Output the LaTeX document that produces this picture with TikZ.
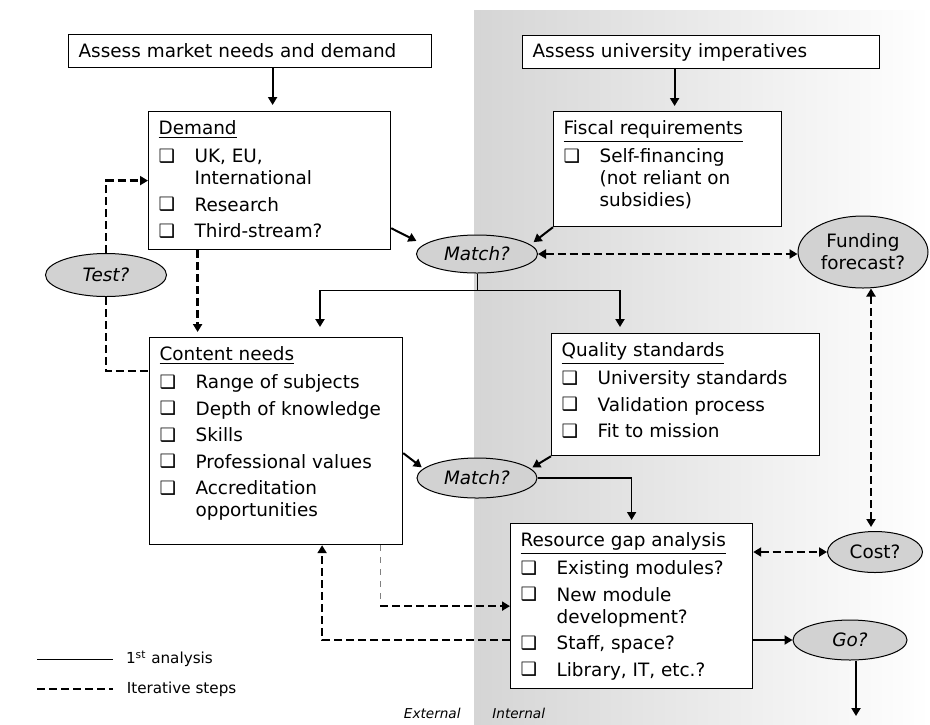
\documentclass[tikz,border=0pt]{standalone}
\usepackage{fontspec}
\setmainfont{DejaVu Sans}[ItalicFont={DejaVu Sans Oblique}]
\usetikzlibrary{shapes.geometric,arrows.meta}
% 方框内文字
\newcommand\chk{\makebox[18pt][l]{\raisebox{0.2pt}{\scalebox{1.0}{❑}}}}
\newcommand\itm[1]{\chk#1}
\newcommand\more[1]{\hspace*{18pt}#1}
\newcommand\boxtxt[3]{\parbox[c][#2][t]{#1}{\rule{0pt}{11.5pt}#3}}

\begin{document}
\begin{tikzpicture}[x=0.5pt,y=-0.5pt,
  font=\fontsize{9.2}{11}\selectfont,
  >={Triangle[length=4pt,width=4.5pt]},
  listbox/.style={draw,line width=0.6pt,fill=white,anchor=north west,inner xsep=5pt,inner ysep=0pt},
  headbox/.style={listbox,align=left,minimum height=16.5pt},
  qoval/.style={ellipse,draw,line width=0.5pt,fill=gray!35,inner sep=0pt},
  firstln/.style={line width=1pt},
  iterln/.style={line width=1.2pt,dash pattern=on 4pt off 2pt},
  small/.style={font=\fontsize{7.6}{9}\selectfont}]
  % 背景：内部区域
  \useasboundingbox (0,0) rectangle (930,724);
  \shade[left color=gray!33,middle color=gray!17,right color=white] (474,10) rectangle (930,724);
  % 顶部评估框
  \node[headbox,text width=171.5pt] (market) at (68,34) {Assess market needs and demand};
  \node[headbox,text width=168.5pt] (univ) at (522,35) {Assess university imperatives};
  % 列表框
  \node[listbox] (demand) at (148,111) {\boxtxt{111pt}{69pt}{\underline{Demand}\\[3pt]
    \itm{UK, EU,}\\ \more{International}\\[2.25pt]
    \itm{Research}\\[2.25pt]
    \itm{Third-stream?}}};
  \node[listbox] (fiscal) at (553,111) {\boxtxt{104pt}{57.5pt}{\underline{Fiscal requirements}\\[3pt]
    \itm{Self-financing}\\ \more{(not reliant on}\\ \more{subsidies)}}};
  \node[listbox] (content) at (149,337) {\boxtxt{116.5pt}{103.5pt}{\underline{Content needs}\\[3pt]
    \itm{Range of subjects}\\[2.25pt]
    \itm{Depth of knowledge}\\[2.25pt]
    \itm{Skills}\\[2.25pt]
    \itm{Professional values}\\[2.25pt]
    \itm{Accreditation}\\ \more{opportunities}}};
  \node[listbox] (quality) at (551,333) {\boxtxt{124pt}{61pt}{\underline{Quality standards}\\[3pt]
    \itm{University standards}\\[2.25pt]
    \itm{Validation process}\\[2.25pt]
    \itm{Fit to mission}}};
  \node[listbox] (resource) at (510,523) {\boxtxt{111pt}{82.5pt}{\underline{Resource gap analysis}\\[3pt]
    \itm{Existing modules?}\\[2.25pt]
    \itm{New module}\\ \more{development?}\\[2.25pt]
    \itm{Staff, space?}\\[2.25pt]
    \itm{Library, IT, etc.?}}};
  % 椭圆
  \node[qoval,minimum width=60.5pt,minimum height=21.5pt] (test) at (106,275) {\itshape Test?};
  \node[qoval,minimum width=60.5pt,minimum height=19pt] (match1) at (477,254) {\itshape Match?};
  \node[qoval,minimum width=65pt,minimum height=36pt,align=center] (funding) at (863,252) {Funding\\forecast?};
  \node[qoval,minimum width=60pt,minimum height=20pt] (match2) at (477,478) {\itshape Match?};
  \node[qoval,minimum width=47.5pt,minimum height=20.5pt] (cost) at (875,552) {Cost?};
  \node[qoval,minimum width=57pt,minimum height=20pt] (go) at (850,640) {\itshape Go?};
  % 实线：第一轮分析
  \draw[firstln,->,shorten >=3pt] ([xshift=1.5pt]market.south -| demand.north) -- ([xshift=1.5pt]demand.north);
  \draw[firstln,->,shorten >=2.5pt] ([xshift=3.5pt]univ.south -| fiscal.north) -- ([xshift=3.5pt]fiscal.north);
  \draw[firstln,->,shorten >=4pt] ([yshift=11pt]demand.south east) -- (match1.170);
  \draw[firstln,->,shorten >=2pt] (fiscal.south west) -- (match1.10);
  \coordinate (split) at (477,290);
  \coordinate (cleft) at (320,290);
  \coordinate (qright) at (620,290);
  \draw[thin] (match1.south) -- (split);
  \draw[thin] (cleft) -- (qright);
  \draw[firstln,->,shorten >=5pt] (cleft) -- (cleft |- content.north);
  \draw[firstln,->,shorten >=3pt] (qright) -- (qright |- quality.north);
  \draw[firstln,->,shorten >=1pt] ([yshift=-6pt]content.east) -- (match2.170);
  \draw[firstln,->,shorten >=1pt] (quality.south west) -- (match2.10);
  \draw[line width=0.8pt,->,shorten >=1.5pt] (match2.east) -| (resource.north);
  \draw[firstln,->] (go.west -| resource.east) -- (go.west);
  \coordinate (launch) at (856,716);
  \draw[firstln,->] (go.south -| launch) -- (launch);
  % 虚线：迭代
  \draw[iterln,<->] (match1.east) -- (match1.east -| funding.west);
  \draw[iterln,<->,shorten >=2pt] ([xshift=4pt]funding.south) -- ([xshift=4pt]funding.south |- cost.north);
  \draw[iterln,<->] (cost.west -| resource.east) -- (cost.west);
  \draw[iterln,->] (test.north) |- (demand.west);
  \draw[iterln] (test.south) |- ([yshift=35pt]content.west);
  \draw[iterln,->,shorten >=2.5pt] ([xshift=-36pt]demand.south) -- ([xshift=-36pt]demand.south |- content.north);
  \draw[thin,dashed,gray] ([xshift=-11.5pt]content.south east) -- ([xshift=-11.5pt]content.south east |- resource.west);
  \draw[iterln,->] ([xshift=-11.5pt]content.south east |- resource.west) -- (resource.west);
  \draw[iterln,->] (resource.west |- go.west) -| ([xshift=23pt]content.south);
  % 图例
  \draw[thin] (37,659) -- (113,659) node[right,small,xshift=3pt] (leg1) {1\textsuperscript{st} analysis};
  \draw[iterln] (37,689) -- (113,689) node[right,small,xshift=3pt] (leg2) {Iterative steps};
  % 外部 / 内部
  \node[anchor=base east,inner sep=0pt,font=\fontsize{6.8}{8}\selectfont\itshape] (ext) at (461,718) {External};
  \node[anchor=base west,inner sep=0pt,font=\fontsize{6.8}{8}\selectfont\itshape] (int) at (492,718) {Internal};
\end{tikzpicture}
\end{document}
